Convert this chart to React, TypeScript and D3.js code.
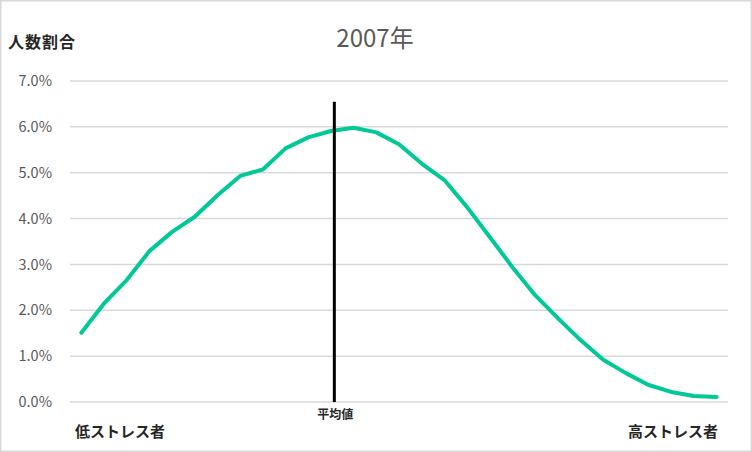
import * as d3 from "d3";

const categories: number[] = d3.range(1, 30);
const shares: number[] = [
  1.51, 2.15, 2.66, 3.29, 3.71, 4.04, 4.51, 4.93, 5.07, 5.53, 5.77, 5.91, 5.98,
  5.88, 5.62, 5.2, 4.84, 4.25, 3.6, 2.94, 2.33, 1.83, 1.35, 0.92, 0.63, 0.37,
  0.22, 0.13, 0.11,
];
const yTicks: number[] = [0, 1, 2, 3, 4, 5, 6, 7];
const meanPosition = 11.15; // index between categories 12 and 13
const meanTop = 6.55;

const title = "2007年";
const yTitle = "人数割合";
const meanLabel = "平均値";
const lowLabel = "低ストレス者";
const highLabel = "高ストレス者";

const W = 752;
const H = 452;
const FONT = "'Noto Sans CJK JP', 'Noto Sans', sans-serif";

function App() {
  const x = d3
    .scalePoint<number>()
    .domain(categories)
    .range([70, 728])
    .padding(0.5);
  const y = d3.scaleLinear().domain([0, 7]).range([402, 81]);

  const meanX =
    (x(categories[Math.floor(meanPosition)]) as number) +
    (meanPosition - Math.floor(meanPosition)) * x.step();

  const line = d3
    .line<number>()
    .x((_, i) => x(categories[i]) as number)
    .y((d) => y(d));

  return (
    <svg
      width={W}
      height={H}
      style={{ position: "fixed", left: 0, top: 0, background: "#fff" }}
      fontFamily={FONT}
    >
      <rect x={0.75} y={0.75} width={W - 1.5} height={H - 1.5} fill="#fff" stroke="#d9d9d9" strokeWidth={1.5} />

      <text x={375} y={47} textAnchor="middle" fontSize={24} fill="#595959">
        {title}
      </text>
      <text x={8} y={48} fontSize={16} fontWeight="bold" fill="#262626" letterSpacing={1}>
        {yTitle}
      </text>

      {yTicks.map((t) => (
        <g key={t}>
          <line x1={70} x2={728} y1={y(t)} y2={y(t)} stroke="#d9d9d9" strokeWidth={1.5} />
          <text x={52} y={y(t)} dy="0.35em" textAnchor="end" fontSize={14.5} fill="#595959">
            {d3.format(".1f")(t) + "%"}
          </text>
        </g>
      ))}

      <path d={line(shares) ?? ""} fill="none" stroke="#00C896" strokeWidth={4} strokeLinejoin="round" strokeLinecap="round" />

      <line x1={meanX} x2={meanX} y1={y(meanTop)} y2={y(0)} stroke="#000" strokeWidth={3} />

      <text x={meanX + 1} y={419} textAnchor="middle" fontSize={12} fontWeight="bold" fill="#262626">
        {meanLabel}
      </text>
      <text x={75} y={437} fontSize={15} fontWeight="bold" fill="#262626">
        {lowLabel}
      </text>
      <text x={718} y={437} textAnchor="end" fontSize={15} fontWeight="bold" fill="#262626">
        {highLabel}
      </text>
    </svg>
  );
}

export default App;
